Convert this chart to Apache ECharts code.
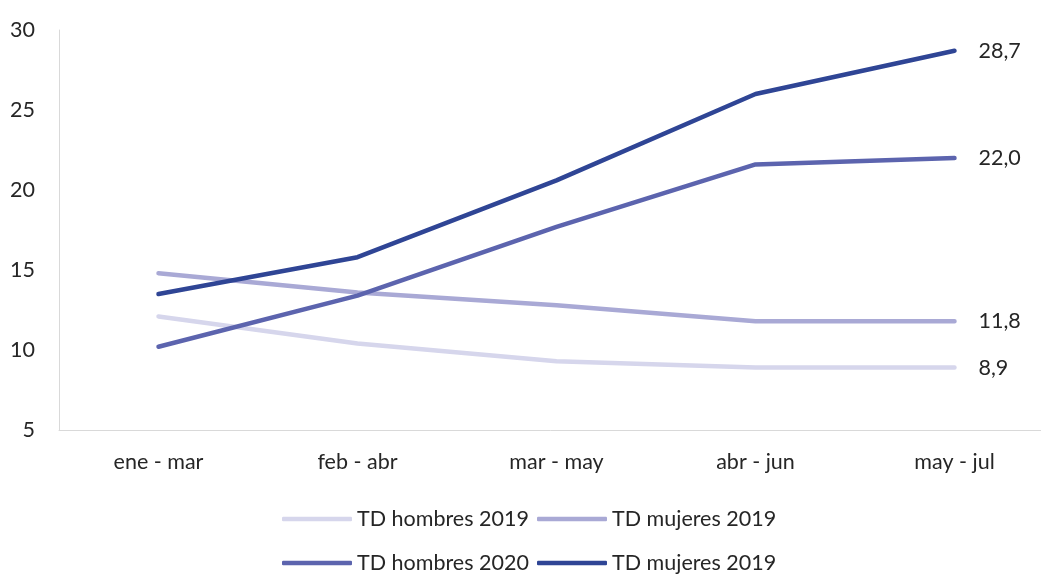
<!DOCTYPE html>
<html>
<head>
<meta charset="utf-8">
<script src="https://cdn.jsdelivr.net/npm/echarts@6/dist/echarts.min.js"></script>
<style>
  html, body { margin: 0; padding: 0; background: #fff; }
  #chart { width: 1041px; height: 577px; }
</style>
</head>
<body>
<div id="chart"></div>
<script>
// periodos (trimestres móviles)
const categories = ['ene - mar', 'feb - abr', 'mar - may', 'abr - jun', 'may - jul']

// tasa de desocupación, %
const tdHombres2019 = [12.1, 10.4, 9.3, 8.9, 8.9]
const tdMujeres2019 = [14.8, 13.6, 12.8, 11.8, 11.8]
const tdHombres2020 = [10.2, 13.4, 17.7, 21.6, 22.0]
const tdMujeres2019b = [13.5, 15.8, 20.6, 26.0, 28.7]

const seriesKeys = ['h2019', 'm2019', 'h2020', 'm2019b']
const seriesLabels = ['TD hombres 2019', 'TD mujeres 2019', 'TD hombres 2020', 'TD mujeres 2019']
const seriesData = [tdHombres2019, tdMujeres2019, tdHombres2020, tdMujeres2019b]
const colors = ['#d6d6ec', '#a9a9d5', '#5c64ae', '#2f4595']

const font = 'Lato, "Open Sans", sans-serif'
const fontSize = 21.5
const textColor = '#262626'

const chart = echarts.init(document.getElementById('chart'))

const legendPos = [
  { left: 282, top: 508 }, { left: 537, top: 508 },
  { left: 282, top: 552 }, { left: 537, top: 552 },
]

chart.setOption({
  animation: false,
  color: colors,
  grid: { left: 59, top: 30, bottom: 147, width: 995, outerBoundsMode: 'none' },
  legend: seriesKeys.map((k, i) => ({
    data: [k],
    left: legendPos[i].left, top: legendPos[i].top, padding: 0,
    icon: 'roundRect', itemWidth: 70, itemHeight: 4.5, itemGap: 0,
    formatter: () => seriesLabels[i],
    textStyle: { fontFamily: font, fontSize: fontSize, color: textColor },
    selectedMode: false,
  })),
  xAxis: {
    type: 'category', data: categories, boundaryGap: true,
    axisLine: { lineStyle: { color: '#d9d9d9', width: 1 } },
    axisTick: { show: false },
    axisLabel: { color: textColor, fontFamily: font, fontSize: fontSize, margin: 21 },
  },
  yAxis: {
    type: 'value', min: 5, max: 30, interval: 5,
    axisLine: { show: true, lineStyle: { color: '#d9d9d9', width: 1 } },
    axisTick: { show: false },
    splitLine: { show: false },
    axisLabel: { color: textColor, fontFamily: font, fontSize: fontSize, margin: 24 },
  },
  series: seriesKeys.map((k, i) => ({
    name: k, type: 'line', data: seriesData[i],
    symbol: 'none',
    lineStyle: { width: 4.5, color: colors[i], cap: 'round', join: 'round' },
    endLabel: {
      show: true, distance: 24,
      color: textColor, fontFamily: font, fontSize: fontSize,
      formatter: p => p.value.toFixed(1).replace('.', ','),
    },
  })),
})
</script>
</body>
</html>
